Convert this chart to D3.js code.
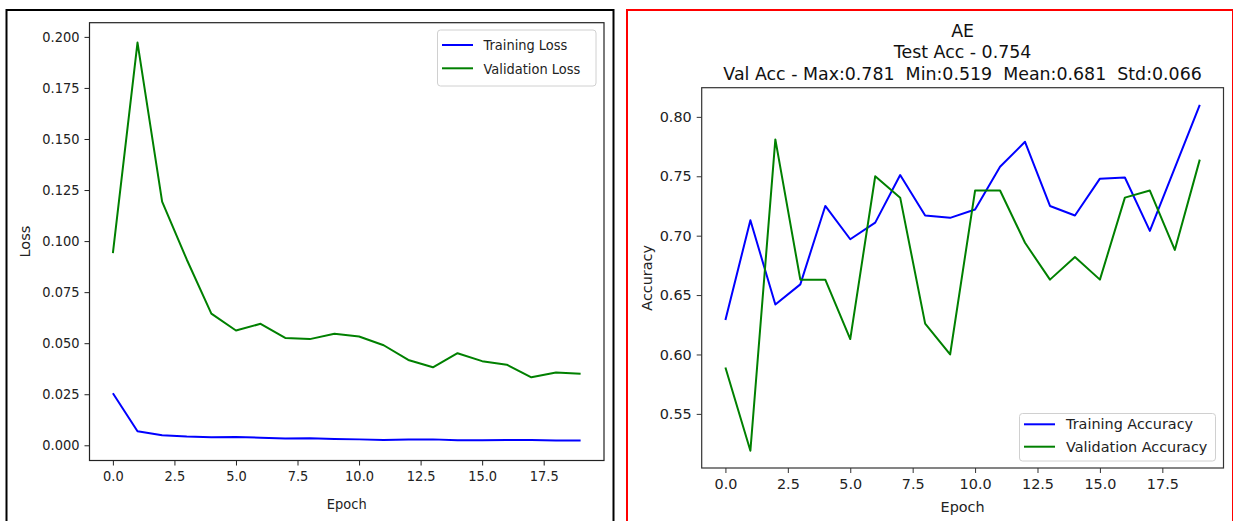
<!DOCTYPE html>
<html><head><meta charset="utf-8">
<script src="https://cdn.jsdelivr.net/npm/d3@7"></script>
<style>
html,body{margin:0;padding:0;background:#fff;}
svg{display:block;font-family:"DejaVu Sans",sans-serif;}
</style></head>
<body>
<svg id="c" width="1233" height="521"></svg>
<script>
const epochs = [0,1,2,3,4,5,6,7,8,9,10,11,12,13,14,15,16,17,18,19];
const trainLoss = [0.0255,0.0069,0.0049,0.0043,0.0040,0.0041,0.0037,0.0033,0.0034,0.0031,0.0029,0.0026,0.0028,0.0029,0.0025,0.0025,0.0026,0.0026,0.0024,0.0023];
const valLoss = [0.0941,0.1972,0.1193,0.0910,0.0645,0.0562,0.0595,0.0526,0.0520,0.0546,0.0533,0.0490,0.0418,0.0382,0.0451,0.0412,0.0395,0.0333,0.0356,0.0350];
const trainAcc = [0.629,0.713,0.642,0.659,0.725,0.697,0.711,0.751,0.717,0.715,0.722,0.758,0.779,0.725,0.717,0.748,0.749,0.704,0.757,0.810];
const valAcc = [0.589,0.519,0.781,0.663,0.663,0.613,0.750,0.732,0.626,0.600,0.738,0.738,0.694,0.663,0.682,0.663,0.732,0.738,0.688,0.764];
const xTicks = [0,2.5,5,7.5,10,12.5,15,17.5];
const lossTicks = [0,0.025,0.05,0.075,0.1,0.125,0.15,0.175,0.2];
const accTicks = [0.55,0.60,0.65,0.70,0.75,0.80];
const lossLegend = ["Training Loss","Validation Loss"];
const accLegend = ["Training Accuracy","Validation Accuracy"];
const titleLines = ["AE","Test Acc - 0.754","Val Acc - Max:0.781  Min:0.519  Mean:0.681  Std:0.066"];
const xLabel = "Epoch";

const svg = d3.select("#c");

// panel frames
svg.append("rect").attr("x",6.5).attr("y",10).attr("width",607).attr("height",530)
  .attr("fill","none").attr("stroke","#000").attr("stroke-width",2);
svg.append("rect").attr("x",627).attr("y",10).attr("width",606).attr("height",530)
  .attr("fill","none").attr("stroke","#ff0000").attr("stroke-width",2);

function squeeze(sel, sx){
  if (sx === 1) return;
  sel.each(function(){
    const x0 = +(this.getAttribute("x") || 0);
    const prev = this.getAttribute("transform") || "";
    this.setAttribute("transform", `${prev} translate(${x0},0) scale(${sx},1) translate(${-x0},0)`);
  });
}

function panel(o){
  const x = d3.scaleLinear().domain([-0.95,19.95]).range([o.left,o.right]);
  const yMin = d3.min([...o.s1,...o.s2]), yMax = d3.max([...o.s1,...o.s2]);
  const m = (yMax-yMin)*0.05;
  const y = d3.scaleLinear().domain([yMin-m,yMax+m]).range([o.bottom,o.top]);
  const g = svg.append("g");
  const fs = o.fs;
  const gx = g.append("g").attr("transform",`translate(0,${o.bottom})`)
    .call(d3.axisBottom(x).tickValues(xTicks).tickFormat(d3.format(".1f")).tickSize(5).tickPadding(o.xpad).tickSizeOuter(0));
  const gy = g.append("g").attr("transform",`translate(${o.left},0)`)
    .call(d3.axisLeft(y).tickValues(o.yTicks).tickFormat(d3.format(o.yfmt)).tickSize(5).tickPadding(5).tickSizeOuter(0));
  [gx,gy].forEach(a=>{
    a.select(".domain").remove();
    a.selectAll("line").attr("stroke",o.spine).attr("stroke-width",1);
    const t = a.selectAll("text").attr("fill","#222").style("font-size",fs+"px").style("font-family","DejaVu Sans");
    squeeze(t, o.sx);
  });
  const line = d3.line().x((d,i)=>x(epochs[i])).y(d=>y(d));
  g.append("path").datum(o.s1).attr("d",line).attr("fill","none").attr("stroke","#0000ff").attr("stroke-width",2).attr("stroke-linejoin","round");
  g.append("path").datum(o.s2).attr("d",line).attr("fill","none").attr("stroke","#008000").attr("stroke-width",2).attr("stroke-linejoin","round");
  g.append("rect").attr("x",o.left).attr("y",o.top).attr("width",o.right-o.left).attr("height",o.bottom-o.top)
    .attr("fill","none").attr("stroke",o.spine).attr("stroke-width",1.2);
  // labels
  const xl = g.append("text").attr("x",(o.left+o.right)/2).attr("y",o.xlabY).attr("text-anchor","middle")
    .attr("fill","#222").style("font-size",fs+"px").text(xLabel);
  squeeze(xl, o.sx);
  g.append("text").attr("transform",`translate(${o.ylabX},${(o.top+o.bottom)/2}) rotate(-90)`).attr("text-anchor","middle")
    .attr("fill","#222").style("font-size",fs+"px").text(o.ylabel);
  // legend
  const L = o.leg;
  g.append("rect").attr("x",L.x).attr("y",L.y).attr("width",L.w).attr("height",L.h).attr("rx",3)
    .attr("fill","#fff").attr("fill-opacity",0.85).attr("stroke","#d0d0d0").attr("stroke-width",1);
  const cols = ["#0000ff","#008000"];
  o.legText.forEach((t,i)=>{
    g.append("line").attr("x1",L.lx1).attr("x2",L.lx2).attr("y1",L.ly[i]).attr("y2",L.ly[i])
      .attr("stroke",cols[i]).attr("stroke-width",2);
    const tt = g.append("text").attr("x",L.tx).attr("y",L.ly[i]+fs*0.36).attr("fill","#222")
      .style("font-size",fs+"px").text(t);
    squeeze(tt, o.sx);
  });
  return g;
}

panel({left:89.5,right:604,top:22.7,bottom:460.5,s1:trainLoss,s2:valLoss,yTicks:lossTicks,yfmt:".3f",
  fs:14.6,sx:0.89,xpad:5,spine:"#222",xlabY:509,ylabX:30,ylabel:"Loss",legText:lossLegend,
  leg:{x:437.5,y:30,w:158.5,h:56,lx1:442,lx2:473,ly:[45,68.3],tx:483.5}});

panel({left:701.7,right:1223.5,top:87.7,bottom:468,s1:trainAcc,s2:valAcc,yTicks:accTicks,yfmt:".2f",
  fs:14.4,sx:1,xpad:6,spine:"#333",xlabY:511.5,ylabX:652,ylabel:"Accuracy",legText:accLegend,
  leg:{x:1019.5,y:413.5,w:196,h:47.5,lx1:1024,lx2:1055,ly:[424.3,446.7],tx:1066}});

const tY = [37,58,79.6];
titleLines.forEach((t,i)=>{
  svg.append("text").attr("x",(701.7+1223.5)/2).attr("y",tY[i]).attr("text-anchor","middle")
    .attr("fill","#111").style("font-size","17.4px").style("white-space","pre").attr("xml:space","preserve").text(t);
});
</script>
</body></html>
